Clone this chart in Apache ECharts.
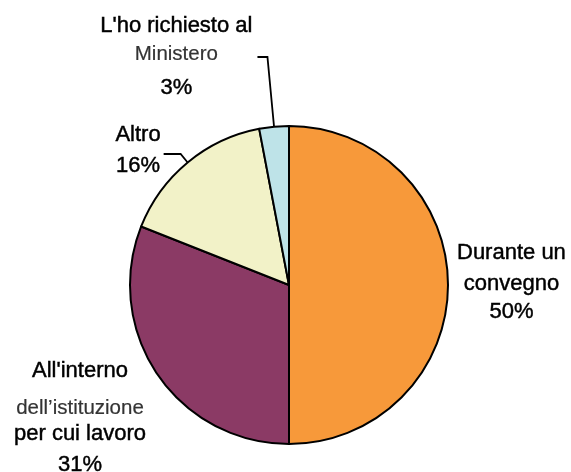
<!DOCTYPE html>
<html>
<head>
<meta charset="utf-8">
<script src="https://cdn.jsdelivr.net/npm/echarts@6/dist/echarts.min.js"></script>
<style>
  html, body { margin: 0; padding: 0; background: #ffffff; }
  #chart { width: 571px; height: 472px; }
</style>
</head>
<body>
<div id="chart"></div>
<script>
// Survey answers and their shares (percent)
const categories = [
  "Durante un convegno",
  "All'interno dell’istituzione per cui lavoro",
  "Altro",
  "L'ho richiesto al Ministero"
];
const values = [50, 31, 16, 3];
// How each category name is broken over lines in its label
const labelLines = [
  ["Durante un", "convegno"],
  ["All'interno", "dell’istituzione", "per cui lavoro"],
  ["Altro"],
  ["L'ho richiesto al", "Ministero"]
];

const sliceColors = ['#F7993A', '#8B3A65', '#F2F2C8', '#BEE3E8'];
const FONT = "'Liberation Sans', Arial, sans-serif";

// Label tuning per slice: line heights (name lines + value line), which line is the
// lighter descriptive one, padding, leader line geometry and whether it is drawn.
const labelTune = [
  { heights: [32, 30, 26], light: -1, padding: [0, 0, 8, 0], length: 2, length2: 2, distance: 5, line: false },
  { heights: [48, 28, 23, 38], light: 1, padding: 0, length: 10, length2: 10, distance: 5, line: false, at: [80, 415] },
  { heights: [31, 31], light: -1, padding: [0, 0, 8, 0], length: 11, length2: 17, distance: 3, line: true },
  { heights: [28, 30, 37], light: 1, padding: [4, 0, 0, 0], length: 70, length2: 10, distance: 5, line: true }
];

const rich = {};
labelTune.forEach((t, i) => {
  t.heights.forEach((h, j) => {
    const isLight = j === t.light;
    rich['s' + i + '_' + j] = {
      fontFamily: FONT,
      fontSize: isLight ? 20.5 : 22,
      color: isLight ? '#333333' : '#000000',
      textBorderColor: isLight ? '#333333' : '#000000',
      textBorderWidth: isLight ? 0.2 : 0.45,
      lineHeight: h,
      align: 'center'
    };
  });
});

const chart = echarts.init(document.getElementById('chart'), null, { renderer: 'canvas' });

chart.setOption({
  backgroundColor: '#ffffff',
  animation: false,
  series: [{
    type: 'pie',
    center: [289, 285],
    radius: 159,
    startAngle: 90,
    clockwise: true,
    avoidLabelOverlap: false,
    emphasis: { disabled: true },
    itemStyle: { borderColor: '#000000', borderWidth: 2 },
    label: {
      show: true,
      position: 'outside',
      formatter: (p) => labelLines[p.dataIndex]
        .concat([p.value + '%'])
        .map((txt, j) => '{s' + p.dataIndex + '_' + j + '|' + txt + '}')
        .join('\n'),
      rich: rich
    },
    labelLine: { lineStyle: { color: '#000000', width: 1.8 }, smooth: false },
    labelLayout: (params) => {
      const t = labelTune[params.dataIndex];
      return t.at ? { x: t.at[0], y: t.at[1], align: 'center', verticalAlign: 'middle' } : {};
    },
    data: values.map((v, i) => ({
      name: categories[i],
      value: v,
      itemStyle: { color: sliceColors[i] },
      label: { padding: labelTune[i].padding, distanceToLabelLine: labelTune[i].distance },
      labelLine: { show: labelTune[i].line, length: labelTune[i].length, length2: labelTune[i].length2 }
    }))
  }]
});
</script>
</body>
</html>
